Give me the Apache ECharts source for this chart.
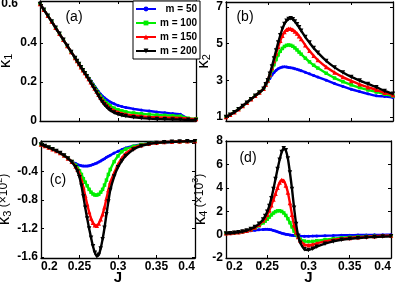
<!DOCTYPE html>
<html><head><meta charset="utf-8">
<script src="https://cdn.jsdelivr.net/npm/echarts@6/dist/echarts.min.js"></script>
<style>html,body{margin:0;padding:0;background:#fff}#c{width:395px;height:286px}</style>
</head><body><div id="c"></div>
<script>
// ---- data ----
const J = [0.2,0.205,0.21,0.215,0.22,0.225,0.23,0.235,0.24,0.245,0.2475,0.25,0.2525,0.255,0.2575,0.26,0.2625,0.265,0.2675,0.27,0.2725,0.275,0.2775,0.28,0.2825,0.285,0.2875,0.29,0.295,0.3,0.305,0.31,0.32,0.33,0.34,0.35,0.36,0.37,0.38,0.39,0.4];
const seriesNames = ['m = 50','m = 100','m = 150','m = 200'];
const xTicks = [0.2,0.25,0.3,0.35,0.4];
const yTicksA = [0,0.2,0.4,0.6];
const yTicksB = [1,3,5,7];
const yTicksC = [0,-0.4,-0.8,-1.2,-1.6];
const yTicksD = [-2,0,2,4,6,8];

const k1_50  = [0.600,0.570,0.540,0.510,0.478,0.447,0.416,0.385,0.354,0.323,0.307,0.292,0.276,0.262,0.248,0.234,0.220,0.206,0.192,0.178,0.164,0.151,0.139,0.128,0.119,0.111,0.104,0.098,0.088,0.080,0.074,0.069,0.062,0.056,0.051,0.046,0.042,0.038,0.034,0.012,0.008];
const k1_100 = [0.600,0.570,0.540,0.510,0.478,0.447,0.416,0.385,0.354,0.323,0.307,0.292,0.276,0.261,0.247,0.231,0.216,0.201,0.186,0.171,0.156,0.141,0.127,0.114,0.103,0.093,0.085,0.078,0.066,0.058,0.052,0.047,0.041,0.037,0.034,0.031,0.029,0.027,0.025,0.014,0.011];
const k1_150 = [0.600,0.570,0.540,0.510,0.478,0.447,0.416,0.385,0.354,0.323,0.307,0.292,0.276,0.260,0.246,0.230,0.215,0.199,0.183,0.167,0.151,0.135,0.120,0.106,0.094,0.083,0.074,0.066,0.053,0.045,0.039,0.034,0.028,0.024,0.021,0.019,0.018,0.017,0.016,0.012,0.010];
const k1_200 = [0.600,0.570,0.540,0.510,0.478,0.447,0.416,0.385,0.354,0.323,0.307,0.292,0.276,0.260,0.245,0.229,0.213,0.197,0.180,0.163,0.146,0.129,0.112,0.097,0.084,0.073,0.063,0.055,0.043,0.035,0.029,0.025,0.019,0.015,0.012,0.010,0.009,0.008,0.007,0.006,0.005];

const k2_50  = [1.00,1.12,1.26,1.42,1.60,1.78,1.97,2.15,2.33,2.53,2.72,2.92,3.10,3.28,3.42,3.54,3.63,3.68,3.72,3.73,3.72,3.70,3.68,3.66,3.63,3.60,3.56,3.52,3.43,3.35,3.26,3.17,3.00,2.82,2.66,2.51,2.38,2.26,2.15,2.12,2.06];
const k2_100 = [1.00,1.12,1.26,1.42,1.60,1.78,1.97,2.15,2.33,2.53,2.74,2.96,3.25,3.55,3.85,4.13,4.38,4.58,4.73,4.84,4.90,4.92,4.90,4.85,4.76,4.65,4.53,4.42,4.20,4.00,3.82,3.66,3.38,3.12,2.92,2.75,2.60,2.47,2.36,2.24,2.14];
const k2_150 = [1.00,1.12,1.26,1.42,1.60,1.78,1.97,2.15,2.33,2.53,2.76,2.98,3.30,3.66,4.05,4.45,4.82,5.15,5.42,5.62,5.75,5.81,5.80,5.75,5.66,5.55,5.40,5.24,4.90,4.60,4.33,4.10,3.72,3.42,3.17,2.96,2.78,2.62,2.48,2.32,2.20];
const k2_200 = [1.00,1.12,1.26,1.42,1.60,1.78,1.97,2.15,2.33,2.53,2.78,3.00,3.35,3.75,4.18,4.62,5.05,5.45,5.80,6.06,6.24,6.34,6.37,6.32,6.20,6.05,5.88,5.70,5.35,5.05,4.75,4.50,4.05,3.70,3.42,3.18,2.98,2.80,2.62,2.42,2.26];

const k3_50  = [-0.02,-0.04,-0.06,-0.085,-0.11,-0.14,-0.175,-0.215,-0.26,-0.285,-0.30,-0.31,-0.318,-0.322,-0.323,-0.322,-0.318,-0.31,-0.30,-0.29,-0.28,-0.265,-0.25,-0.235,-0.218,-0.20,-0.185,-0.17,-0.14,-0.115,-0.09,-0.068,-0.04,-0.02,-0.005,0.005,0.01,0.015,0.02,0.022,0.025];
const k3_100 = [-0.02,-0.04,-0.06,-0.085,-0.11,-0.14,-0.175,-0.215,-0.26,-0.31,-0.35,-0.39,-0.44,-0.50,-0.55,-0.60,-0.65,-0.69,-0.715,-0.73,-0.73,-0.72,-0.69,-0.65,-0.59,-0.52,-0.44,-0.37,-0.26,-0.18,-0.12,-0.085,-0.045,-0.02,-0.005,0.005,0.012,0.017,0.02,0.024,0.027];
const k3_150 = [-0.02,-0.04,-0.06,-0.085,-0.11,-0.14,-0.175,-0.215,-0.26,-0.33,-0.37,-0.43,-0.52,-0.62,-0.74,-0.86,-0.97,-1.06,-1.12,-1.155,-1.16,-1.13,-1.07,-1.00,-0.90,-0.78,-0.66,-0.55,-0.42,-0.30,-0.21,-0.145,-0.07,-0.03,-0.01,0.005,0.015,0.02,0.024,0.027,0.029];
const k3_200 = [-0.02,-0.04,-0.06,-0.085,-0.11,-0.14,-0.175,-0.215,-0.265,-0.34,-0.40,-0.48,-0.60,-0.75,-0.91,-1.06,-1.20,-1.33,-1.45,-1.54,-1.59,-1.57,-1.48,-1.35,-1.19,-1.00,-0.82,-0.66,-0.47,-0.34,-0.25,-0.18,-0.09,-0.04,-0.012,0.003,0.012,0.018,0.022,0.026,0.028];

const k4_50  = [0.10,0.12,0.15,0.18,0.22,0.27,0.32,0.37,0.41,0.44,0.45,0.45,0.44,0.41,0.36,0.30,0.24,0.18,0.12,0.07,0.03,0.00,-0.03,-0.06,-0.08,-0.10,-0.12,-0.13,-0.14,-0.14,-0.13,-0.12,-0.10,-0.08,-0.06,-0.05,-0.04,-0.03,-0.02,-0.02,-0.01];
const k4_100 = [0.10,0.12,0.15,0.19,0.24,0.31,0.41,0.55,0.75,1.00,1.15,1.32,1.50,1.68,1.84,1.96,2.03,2.04,1.98,1.85,1.64,1.36,1.02,0.66,0.30,0.00,-0.22,-0.38,-0.55,-0.60,-0.58,-0.53,-0.43,-0.35,-0.28,-0.23,-0.19,-0.16,-0.14,-0.12,-0.10];
const k4_150 = [0.12,0.14,0.17,0.21,0.26,0.33,0.44,0.60,0.85,1.20,1.42,1.70,2.05,2.50,3.00,3.50,4.00,4.45,4.67,4.60,4.20,3.60,2.70,1.70,0.80,0.20,-0.20,-0.50,-0.85,-0.90,-0.85,-0.75,-0.58,-0.45,-0.35,-0.28,-0.22,-0.18,-0.14,-0.10,-0.08];
const k4_200 = [0.10,0.12,0.15,0.20,0.26,0.35,0.48,0.66,0.92,1.30,1.58,1.95,2.45,3.10,3.90,4.75,5.60,6.40,7.05,7.38,7.20,6.50,5.30,3.90,2.30,0.90,-0.10,-0.70,-1.25,-1.32,-1.20,-1.03,-0.78,-0.58,-0.44,-0.35,-0.29,-0.24,-0.20,-0.17,-0.15];

// ---- chart ----
const FONT = 'Liberation Sans';
const colors = ['#0000ff','#00ee00','#ff0000','#000000'];
const symbols = ['circle','rect','triangle','triangle'];
const symRot = [0,0,0,180];
const symSize = [3,3.5,4.5,4.5];

const panels = [
  {grid:{left:40, top:1, width:156, height:120}, ymin:0, ymax:0.615, yt:yTicksA, data:[k1_50,k1_100,k1_150,k1_200], xlab:false,
   name:'{k|κ}{s|1}', gap:26},
  {grid:{left:226, top:2, width:167, height:119}, ymin:0.78, ymax:7.26, yt:yTicksB, data:[k2_50,k2_100,k2_150,k2_200], xlab:false,
   name:'{k|κ}{s|2}', gap:14},
  {grid:{left:41, top:141, width:154, height:117}, ymin:-1.615, ymax:0.03, yt:yTicksC, data:[k3_50,k3_100,k3_150,k3_200], xlab:true,
   name:'{k|κ}{s|3}{p| (×10}{u|2}{p|)}', gap:28},
  {grid:{left:226, top:141, width:165, height:117}, ymin:-2, ymax:8, yt:yTicksD, data:[k4_50,k4_100,k4_150,k4_200], xlab:true,
   name:'{k|κ}{s|4}{p| (×10}{u|3}{p|)}', gap:17}
];

const grids = [], xAxes = [], yAxes = [], series = [];
const lab = {color:'#000', fontWeight:'bold', fontSize:12, fontFamily:FONT};
panels.forEach((p, i) => {
  grids.push(Object.assign({outerBoundsMode:'none', containLabel:false}, p.grid));
  const axLine = {onZero:false, lineStyle:{color:'#000', width:1.3}};
  const tick = (vals) => ({inside:true, length:3, customValues:vals, lineStyle:{color:'#000', width:1}});
  xAxes.push({type:'value', gridIndex:i, position:'bottom', min:0.2, max:0.4, interval:0.05,
    axisLine:axLine, axisTick:tick(xTicks), splitLine:{show:false},
    axisLabel:Object.assign({show:p.xlab, customValues:xTicks, margin:3, alignMinLabel:'left', alignMaxLabel:'right'}, lab),
    name:p.xlab ? 'J' : '', nameLocation:'middle', nameGap:12, nameMoveOverlap:false,
    nameTextStyle:{color:'#000', fontWeight:'bold', fontSize:15, fontFamily:FONT}});
  xAxes.push({type:'value', gridIndex:i, position:'top', min:0.2, max:0.4, interval:0.05,
    axisLine:axLine, axisTick:tick(xTicks), axisLabel:{show:false}, splitLine:{show:false}});
  yAxes.push({type:'value', gridIndex:i, position:'left', min:p.ymin, max:p.ymax,
    axisLine:axLine, axisTick:tick(p.yt), splitLine:{show:false},
    axisLabel:Object.assign({customValues:p.yt, margin:3,
      formatter:(v) => (i === 0 && Math.abs(v - 0.6) < 1e-9) ? '{L|0.6}' : String(v),
      rich:{L:{fontWeight:'bold', fontSize:12, fontFamily:FONT, color:'#000', padding:[0,19,0,0]}}}, lab),
    name:p.name, nameLocation:'middle', nameRotate:90, nameGap:p.gap, nameMoveOverlap:false,
    nameTextStyle:{color:'#000', fontFamily:FONT,
      rich:{
        k:{fontSize:17, fontFamily:FONT, color:'#000', lineHeight:18, verticalAlign:'middle'},
        s:{fontSize:11, fontFamily:FONT, color:'#000', lineHeight:8, verticalAlign:'bottom'},
        p:{fontSize:12, fontFamily:FONT, color:'#000', lineHeight:18, verticalAlign:'middle'},
        u:{fontSize:9, fontFamily:FONT, color:'#000', lineHeight:9, verticalAlign:'top'}
      }}});
  yAxes.push({type:'value', gridIndex:i, position:'right', min:p.ymin, max:p.ymax,
    axisLine:axLine, axisTick:tick(p.yt), axisLabel:{show:false}, splitLine:{show:false}});
  p.data.forEach((vals, s) => {
    series.push({type:'line', name:seriesNames[s], xAxisIndex:2*i, yAxisIndex:2*i,
      data:J.map((x, k) => [x, vals[k]]),
      symbol:symbols[s], symbolRotate:symRot[s], symbolSize:symSize[s], showSymbol:true, smooth:0.2,
      itemStyle:{color:colors[s]}, lineStyle:{color:colors[s], width:2.4}, z:2+s});
  });
});

const chart = echarts.init(document.getElementById('c'), null, {renderer:'canvas'});
chart.setOption({
  animation:false,
  backgroundColor:'#fff',
  grid:grids, xAxis:xAxes, yAxis:yAxes, series:series,
  legend:{data:seriesNames, orient:'vertical', left:133, top:1, selectedMode:false,
    backgroundColor:'#fff', borderColor:'#000', borderWidth:1, padding:[3,3,3,2],
    itemGap:4, itemWidth:20, itemHeight:6,
    formatter:(n) => '{r|' + n + '}',
    textStyle:{rich:{r:{width:36, align:'right', fontWeight:'bold', fontSize:10, fontFamily:FONT, color:'#000', lineHeight:12}}}},
  graphic:[
    {type:'text', x:74, y:17, style:{text:'(a)', font:'14px "Liberation Sans"', fill:'#000', align:'center', verticalAlign:'middle'}},
    {type:'text', x:245, y:17, style:{text:'(b)', font:'14px "Liberation Sans"', fill:'#000', align:'center', verticalAlign:'middle'}},
    {type:'text', x:58, y:180, style:{text:'(c)', font:'14px "Liberation Sans"', fill:'#000', align:'center', verticalAlign:'middle'}},
    {type:'text', x:248, y:158, style:{text:'(d)', font:'14px "Liberation Sans"', fill:'#000', align:'center', verticalAlign:'middle'}}
  ]
});
</script></body></html>
